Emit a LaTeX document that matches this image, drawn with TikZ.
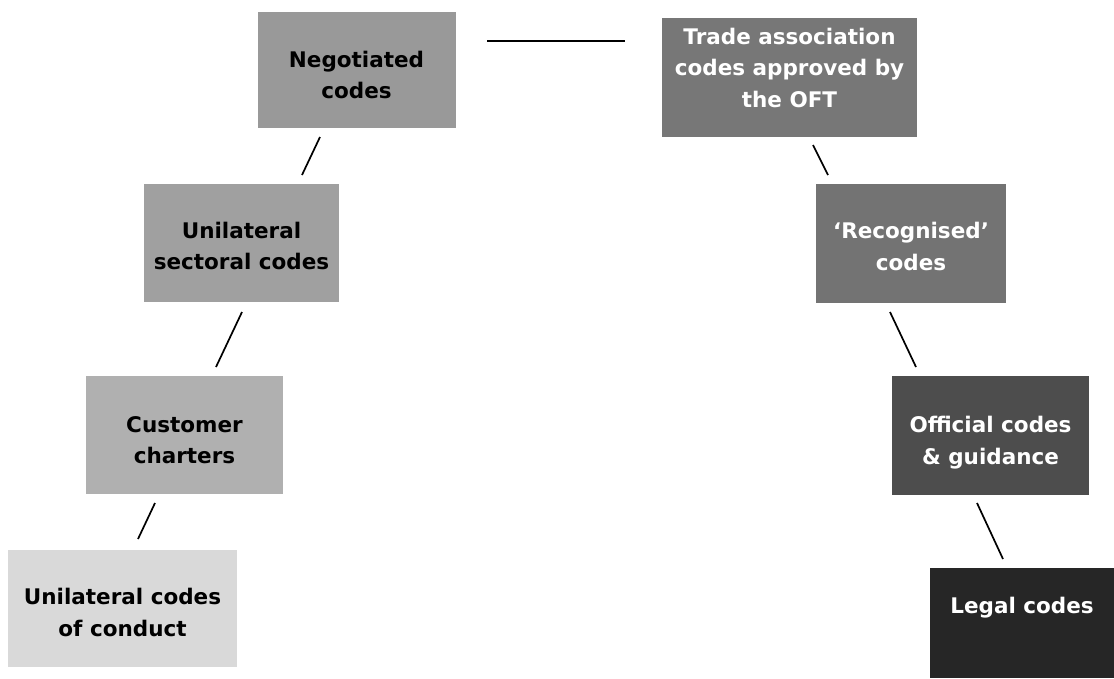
\documentclass[tikz,border=0pt]{standalone}
\usepackage{fontspec}
\setmainfont{DejaVu Sans}
\definecolor{cneg}{HTML}{999999}
\definecolor{csect}{HTML}{A0A0A0}
\definecolor{ccust}{HTML}{B0B0B0}
\definecolor{cucc}{HTML}{D9D9D9}
\definecolor{ctrade}{HTML}{777777}
\definecolor{crecog}{HTML}{737373}
\definecolor{coff}{HTML}{4D4D4D}
\definecolor{clegal}{HTML}{262626}
\begin{document}
\begin{tikzpicture}[x=1pt,y=-1pt,
  box/.style={draw=none, inner sep=0pt},
  txt/.style={inner sep=0pt, align=center,
    font=\fontsize{21.5}{31.5}\selectfont\bfseries},
  dark/.style={txt, text=white},
  light/.style={txt, text=black},
  link/.style={line width=1.7pt, line cap=butt}]
\useasboundingbox (0,0) rectangle (1114,678);
% left column boxes
\node[box, fill=cneg, minimum width=198pt, minimum height=116pt] (neg) at (356.5,70) {};
\node[box, fill=csect, minimum width=195pt, minimum height=118pt] (sect) at (241.5,243) {};
\node[box, fill=ccust, minimum width=197pt, minimum height=118pt] (cust) at (184.5,435) {};
\node[box, fill=cucc, minimum width=229pt, minimum height=117pt] (ucc) at (122.5,608.5) {};
% right column boxes
\node[box, fill=ctrade, minimum width=255pt, minimum height=119pt] (trade) at (789.5,77.5) {};
\node[box, fill=crecog, minimum width=190pt, minimum height=119pt] (recog) at (911,243.5) {};
\node[box, fill=coff, minimum width=197pt, minimum height=119pt] (off) at (990.5,435.5) {};
\node[box, fill=clegal, minimum width=184pt, minimum height=110pt] (legal) at (1022,623) {};
% texts
\node[light] (negt) at ([yshift=-5pt]neg.center) {Negotiated\\codes};
\node[light] (sectt) at ([yshift=-3pt]sect.center) {Unilateral\\sectoral codes};
\node[light] (custt) at ([yshift=-5pt]cust.center) {Customer\\charters};
\node[light] (ucct) at ([yshift=-4pt]ucc.center) {Unilateral codes\\of conduct};
\node[dark] (tradet) at ([yshift=10pt]trade.center) {Trade association\\codes approved by\\the OFT};
\node[dark] (recogt) at ([yshift=-3pt]recog.center) {`Recognised'\\codes};
\node[dark] (offt) at ([yshift=-7pt]off.center) {Official codes\\\& guidance};
\node[dark] (legalt) at ([yshift=15pt]legal.center) {Legal codes};
% connector end points
\coordinate (h1) at (487,41);
\coordinate (h2) at (625,41);
\coordinate (a1) at (320,137);
\coordinate (a2) at (302,175);
\coordinate (b1) at (242,312);
\coordinate (b2) at (216,367);
\coordinate (c1) at (155,503);
\coordinate (c2) at (138,539);
\coordinate (d1) at (813,145);
\coordinate (d2) at (828,175);
\coordinate (e1) at (890,312);
\coordinate (e2) at (916,367);
\coordinate (f1) at (977,503);
\coordinate (f2) at (1003,559);
\draw[link] (h1) -- (h2);
\draw[link] (a1) -- (a2);
\draw[link] (b1) -- (b2);
\draw[link] (c1) -- (c2);
\draw[link] (d1) -- (d2);
\draw[link] (e1) -- (e2);
\draw[link] (f1) -- (f2);
\end{tikzpicture}
\end{document}
